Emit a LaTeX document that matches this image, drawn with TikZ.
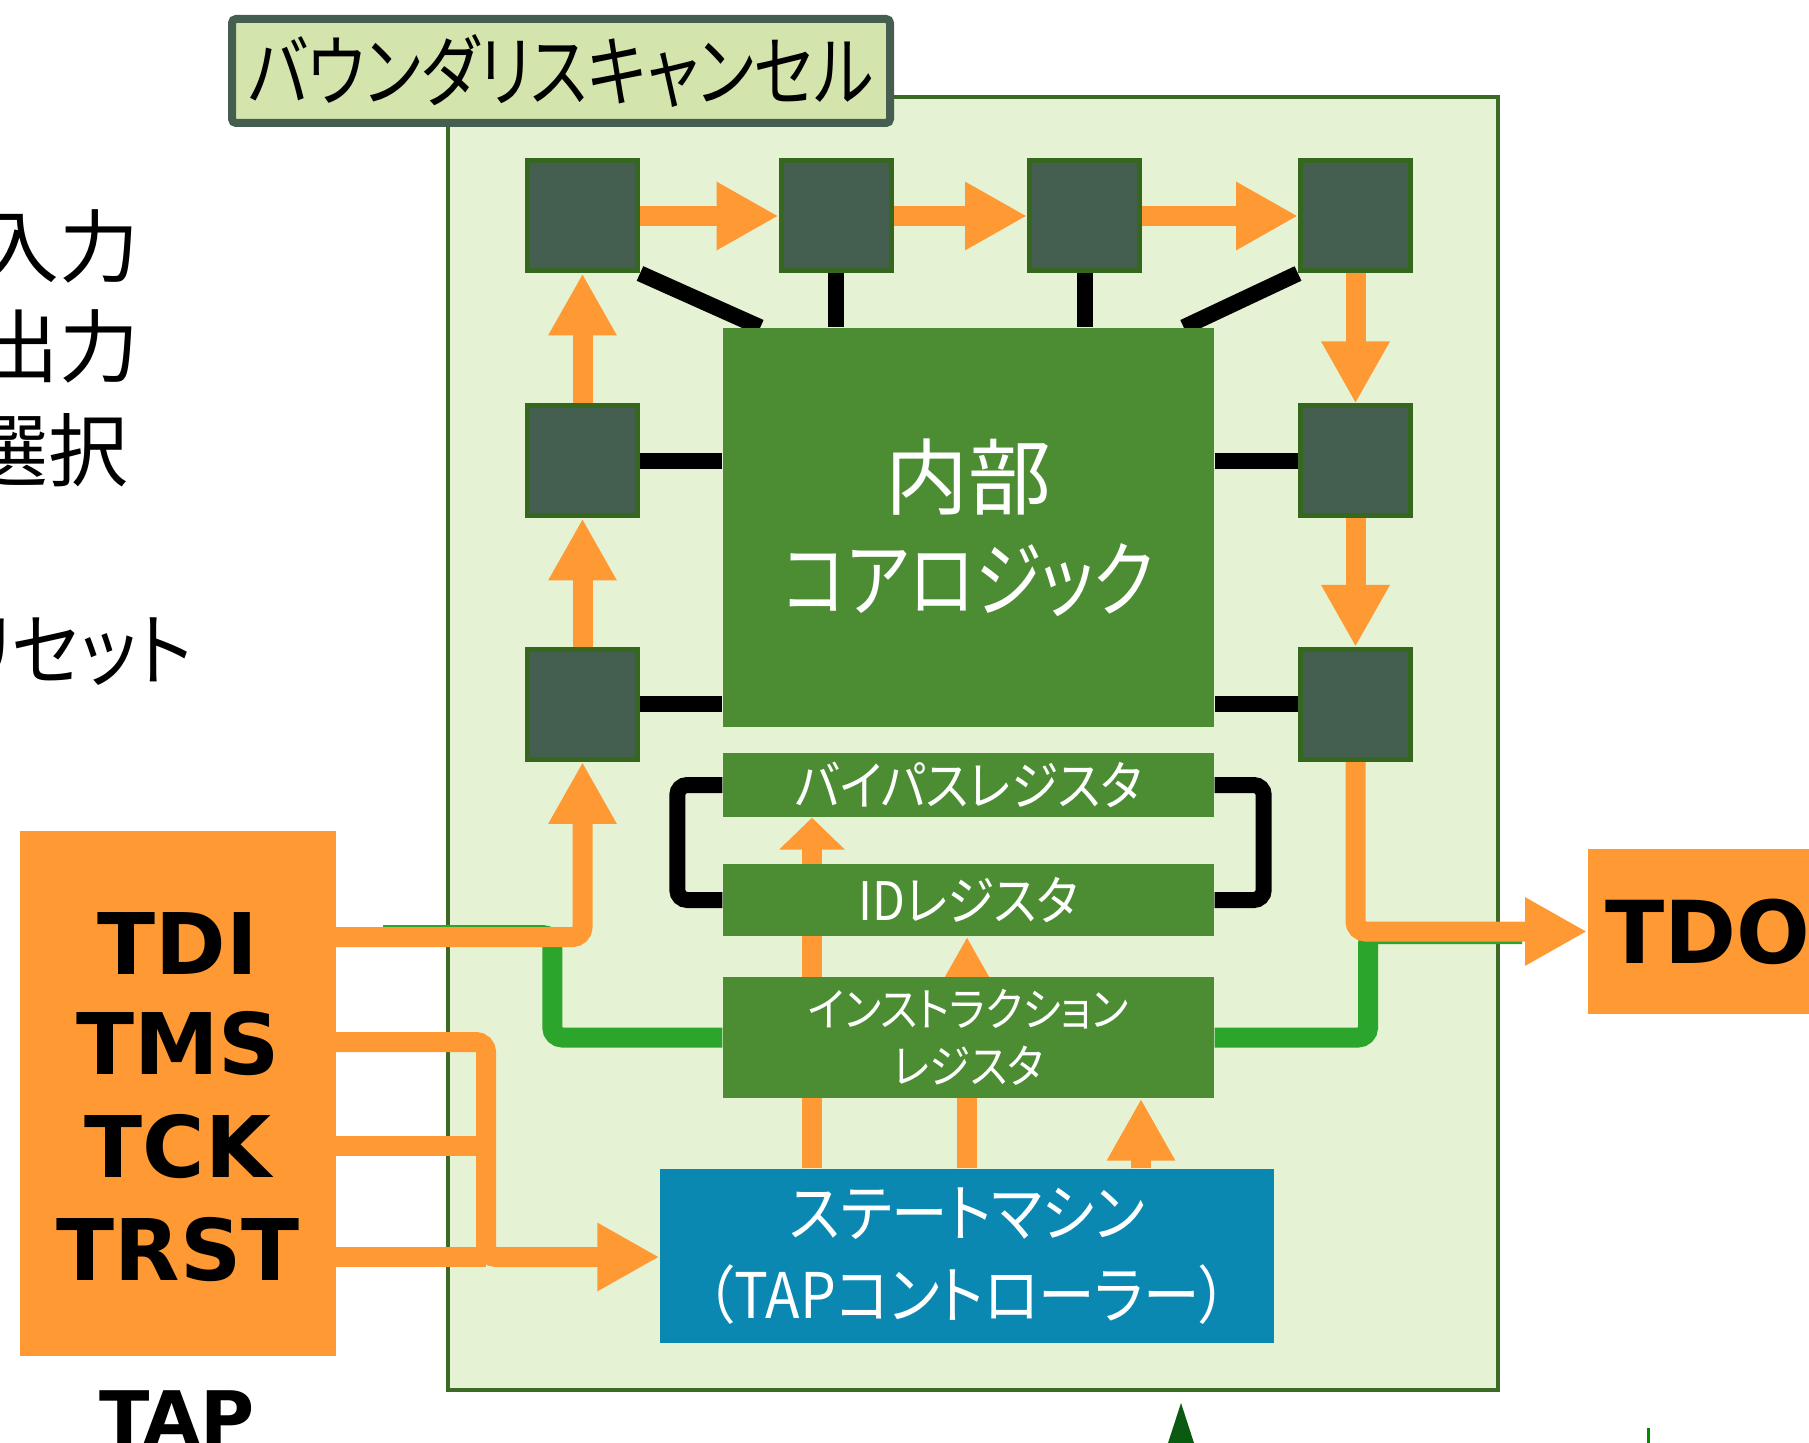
\documentclass[tikz,border=0pt]{standalone}
\usepackage{fontspec}
\setmainfont{DejaVu Sans}
\newfontfamily\jp[RawFeature=+palt,FakeStretch=0.9]{Noto Sans CJK JP}
\newfontfamily\jpn[RawFeature=+palt,FakeStretch=0.81]{Noto Sans CJK JP}
\newfontfamily\jpk{Noto Sans CJK JP}
\usetikzlibrary{arrows.meta,calc}

\definecolor{orng}{HTML}{FF9933}
\definecolor{panelfill}{HTML}{E6F2D4}
\definecolor{panelline}{HTML}{3A6A24}
\definecolor{tagfill}{HTML}{D3E5AC}
\definecolor{tagline}{HTML}{465E50}
\definecolor{cellfill}{HTML}{445E4F}
\definecolor{cellline}{HTML}{36671E}
\definecolor{logic}{HTML}{4C8C33}
\definecolor{fsmblue}{HTML}{0A88B2}
\definecolor{bus}{HTML}{2CA52C}
\definecolor{spike}{HTML}{0B5A12}

\pgfdeclarelayer{back}
\pgfdeclarelayer{wires}
\pgfsetlayers{back,wires,main}

\begin{document}
\begin{tikzpicture}[x=0.1mm, y=-0.1mm,
  cell/.style={draw=cellline, line width=0.5mm, fill=cellfill, minimum width=11mm, minimum height=11mm, inner sep=0pt},
  block/.style={fill=logic, text=white, inner sep=0pt, align=center, minimum width=49.1mm},
  pin/.style={font=\bfseries\fontsize{24.2}{29}\selectfont, inner sep=0pt},
  side/.style={anchor=east, inner sep=0pt},
  oline/.style={draw=orng, line width=2mm},
  oarr/.style={oline, -{Triangle[length=6.2mm, width=6.4mm]}},
  oshort/.style={oline, -{Triangle[length=3.2mm, width=6.4mm]}},
  bline/.style={draw=black, line width=1.6mm},
  gline/.style={draw=bus, line width=2mm, rounded corners=1mm}
]
\useasboundingbox (0,0) rectangle (1809,1443);

% panel and its tag
\begin{pgfonlayer}{back}
\node[draw=panelline, line width=0.45mm, fill=panelfill, minimum width=105mm, minimum height=129.3mm] (panel) at (973,743.5) {};
\end{pgfonlayer}
\node[draw=tagline, line width=0.8mm, fill=tagfill, rounded corners=0.4mm, minimum width=65.8mm, minimum height=10.4mm, inner sep=0pt,
  font=\jpn\fontsize{22.2}{26}\selectfont] (tag) at (561,71) {バウンダリスキャンセル};

% cells
\node[cell] (c1) at (582.5,216) {};
\node[cell] (c2) at (836,216) {};
\node[cell] (c3) at (1084.5,216) {};
\node[cell] (c4) at (1355.5,216) {};
\node[cell] (l2) at (582.5,461) {};
\node[cell] (l3) at (582.5,704.5) {};
\node[cell] (r1) at (1355.5,461) {};
\node[cell] (r2) at (1355.5,704.5) {};

% blocks
\node[block, minimum height=39.9mm, font=\jpn\fontsize{23.6}{29}\selectfont] (core) at (968.5,527.5)
  {{\jpk 内部}\\コアロジック};
\node[block, minimum height=6.4mm, font=\jp\fontsize{15.1}{18}\selectfont] (bypass) at (968.5,785) {バイパスレジスタ};
\node[block, minimum height=7.2mm, font=\jp\fontsize{15.1}{18}\selectfont] (idreg) at (968.5,900) {IDレジスタ};
\node[block, minimum height=12.1mm, font=\jp\fontsize{13.1}{16.2}\selectfont] (ir) at (968.5,1037.5) {インストラクション\\レジスタ};
\node[block, fill=fsmblue, minimum width=61.4mm, minimum height=17.4mm, font=\jp\fontsize{17.9}{23.5}\selectfont] (fsm) at (967,1256)
  {ステートマシン\\（TAPコントローラー）};

% TAP and TDO
\node[fill=orng, minimum width=31.6mm, minimum height=52.5mm] (tap) at (178,1093.5) {};
\node[pin] (tdi) at (178,943) {TDI};
\node[pin] (tms) at (178,1044) {TMS};
\node[pin] (tck) at (178,1147) {TCK};
\node[pin] (trst) at (178,1250) {TRST};
\node[fill=orng, anchor=west, minimum width=24mm, minimum height=16.5mm, inner sep=0pt,
  font=\bfseries\fontsize{24.7}{29}\selectfont] (tdo) at (1587,931.5) {TDO};
\node[anchor=base, inner sep=0pt, font=\bfseries\fontsize{21}{25}\selectfont] (taplbl) at (177,1444) {TAP};

% cropped side texts
\node[side, font=\jpk\fontsize{22.7}{27}\selectfont] (sin) at (140,246) {入力};
\node[side, font=\jpk\fontsize{22.7}{27}\selectfont] (sout) at (140,346) {出力};
\node[side, font=\jpk\fontsize{22.7}{27}\selectfont] (ssel) at (129,450) {選択};
\node[side, font=\jp\fontsize{22.7}{27}\selectfont] (srst) at (193,652) {リセット};

\coordinate (tdiout) at (336,937);
\coordinate (tmsout) at (336,1042);
\coordinate (tckout) at (336,1146);
\coordinate (trstout) at (336,1257);
\coordinate (jn) at (486,1257);
\coordinate (gin) at (383,935);
\coordinate (gout) at (1522,934);
\coordinate (colA) at (812,0);
\coordinate (colB) at (967,0);
\coordinate (colC) at (1141,0);

\begin{pgfonlayer}{wires}
% instruction path
\draw[gline] (gin) -| ([xshift=-17mm]ir.west) -- (ir.west);
\draw[gline] (ir.east) -| ([xshift=-15.4mm]gout) -- (gout);

% scan chain
\draw[oarr, rounded corners=1mm] (tdiout) -| (l3.south);
\draw[oarr] (l3) -- (l2);
\draw[oarr] (l2) -- (c1);
\draw[oarr] (c1) -- (c2);
\draw[oarr] (c2) -- (c3);
\draw[oarr] (c3) -- (c4);
\draw[oarr] (c4) -- (r1);
\draw[oarr] (r1) -- (r2);
\draw[oarr, rounded corners=1mm] (r2.south) |- (tdo.west);

% control
\draw[oarr, rounded corners=1mm] (tmsout) -| (jn) -- (fsm.west |- jn);
\draw[oline] (tckout) -- (tckout -| jn);
\draw[oline] (trstout) -- (jn);
\draw[oshort] (fsm.north -| colA) -- (bypass.south -| colA);
\draw[oarr] (fsm.north -| colB) -- (idreg.south -| colB);
\draw[oarr] (fsm.north -| colC) -- (ir.south -| colC);

% core links
\draw[bline] (c1.south east) -- ([xshift=3.8mm]core.north west);
\draw[bline] (c2.south) -- (c2.south |- core.north);
\draw[bline] (c3.south) -- (c3.south |- core.north);
\draw[bline] (c4.south west) -- ([xshift=-3.1mm]core.north east);
\draw[bline] (l2.east) -- (l2.east -| core.west);
\draw[bline] (l3.east) -- (l3.east -| core.west);
\draw[bline] (r1.west) -- (r1.west -| core.east);
\draw[bline] (r2.west) -- (r2.west -| core.east);
\draw[bline, rounded corners=1mm] (bypass.west) -- ++(-45,0) |- (idreg.west);
\draw[bline, rounded corners=1mm] (bypass.east) -- ++(49,0) |- (idreg.east);
\end{pgfonlayer}

% cropped logo bits
\fill[spike] (1181,1403) -- (1194,1443) -- (1168,1443) -- cycle;
\draw[green!55!black, line width=0.3mm] (1648,1428) -- (1648,1443);
\end{tikzpicture}
\end{document}
